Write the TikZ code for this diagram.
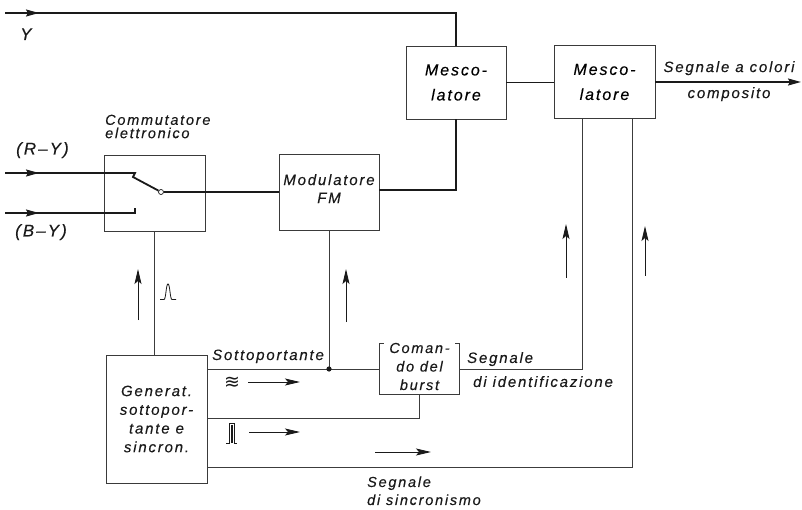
\documentclass[tikz,border=0pt]{standalone}
\usepackage{fontspec}
\setmainfont{Liberation Sans}[LetterSpace=12,ItalicFeatures={FakeBold=0.3}]
\newfontfamily\symf{DejaVu Sans}
\usetikzlibrary{arrows.meta,decorations.markings}
\newcommand{\mylbl}[2]{\fontsize{#1}{#2}\selectfont\itshape}
\definecolor{ink}{HTML}{1A1A1A}
\definecolor{boxc}{HTML}{3A3A3A}
\begin{document}
\begin{tikzpicture}[x=1pt,y=-1pt,
  blk/.style={draw=boxc,line width=0.8pt,inner sep=0pt,align=center},
  txt/.style={inner sep=0pt,text=ink},
  thickln/.style={draw=ink,line width=1.8pt},
  thinln/.style={draw=ink!85,line width=0.9pt},
  midarrow/.style={postaction={decorate},decoration={markings,
     mark=at position 34pt with {\arrow{Stealth[length=13pt,width=7pt,inset=2pt]}}}},
  sig/.style={draw=ink,line width=0.9pt,-{Stealth[length=15pt,width=7pt,inset=3pt]}},
  pulse/.style={draw=ink,line width=0.8pt}
]
\useasboundingbox (0,0) rectangle (802,510);

% ---------- boxes ----------
\node[blk,minimum width=100pt,minimum height=73pt,font=\mylbl{16}{25}] (mix1) at (456,82.5) {Mesco-\\latore};
\node[blk,minimum width=101pt,minimum height=73pt,font=\mylbl{16}{25}] (mix2) at (604.5,82) {Mesco-\\latore};
\node[blk,minimum width=101pt,minimum height=76pt] (com) at (154.5,193) {};
\node[blk,minimum width=100pt,minimum height=76pt] (mod) at (329,192) {};
\node[txt,align=center,font=\mylbl{15}{18}] (tmod) at (329,188.6) {Modulatore\\FM};
\node[blk,minimum width=101pt,minimum height=128pt,font=\mylbl{15}{18.7},text=ink] (gen) at (156.5,419) {Generat.\\sottopor-\\tante e\\sincron.};
\node[inner sep=0pt,minimum width=79pt,minimum height=50pt] (cmd) at (419.5,369) {};
\draw[boxc,line width=0.8pt] ([xshift=4pt]cmd.north west) -- (cmd.north west) -- (cmd.south west)
   -- (cmd.south east) -- (cmd.north east) -- ([xshift=-4pt]cmd.north east);
\node[txt,align=center,font=\mylbl{14.5}{18.5}] (tcmd) at (419.5,366.5) {Coman-\\do del\\burst};

% ---------- labels ----------
\node[txt,anchor=base west,font=\mylbl{17}{20}] (ly) at (20,40) {Y};
\node[txt,anchor=base west,font=\mylbl{17}{20}] (lry) at (16,154.5) {(R–Y)};
\node[txt,anchor=base west,font=\mylbl{17}{20}] (lby) at (15,236.5) {(B–Y)};
\node[txt,anchor=west,align=left,font=\mylbl{14.5}{13.3}] (lcom) at (105,126.5) {Commutatore\\elettronico};
\node[txt,align=center,font=\mylbl{15}{26}] (lout) at (729,81.2) {Segnale a colori\\composito};
\node[txt,anchor=base west,font=\mylbl{15}{18}] (lsub) at (212,360) {Sottoportante};
\node[txt,anchor=west,align=left,font=\mylbl{15}{24}] (lid) at (467,369.6) {Segnale\\\hspace*{6pt}di identificazione};
\node[txt,anchor=west,align=left,font=\mylbl{14.5}{18}] (lsync) at (367,490.8) {Segnale\\di sincronismo};

% ---------- coordinates ----------
\coordinate (yin) at (5,13);
\coordinate (rin) at (5,173);
\coordinate (rend) at (135,173);
\coordinate (bin) at (5,213);
\coordinate (bend) at (135,213);
\coordinate (out) at (801,82);
\coordinate (l2) at (0,418);
\coordinate (l3) at (0,467);
\node[circle,draw=ink,fill=white,line width=0.7pt,inner sep=0pt,minimum size=5pt] (sw) at (161,192) {};

% ---------- thick signal paths ----------
\draw[thickln,midarrow] (yin) -| (mix1.north);
\draw[thickln,midarrow] (rin) -- (rend) -- ++(-2,4) -- (sw);
\draw[thickln,midarrow] (bin) -- (bend) -- ++(0,-5);
\draw[thickln] (sw) -- (mod.west |- sw);
\draw[thickln] (mod.east |- 0,190) -| (mix1.south);
\draw[thickln] (mix1.east) -- (mix2.west |- mix1.east);
\draw[thickln,-{Stealth[length=13pt,width=7pt,inset=2pt]}] (mix2.east) -- (out);

% ---------- thin paths ----------
\draw[thinln] (com.south) -- (com.south |- gen.north);
\coordinate (junc) at (mod.south |- cmd.west);
\draw[thinln] (mod.south) -- (junc);
\draw[thinln] (gen.east |- cmd.west) -- (cmd.west);
\fill[ink] (junc) circle (2.6pt);
\draw[thinln] (gen.east |- l2) -| (cmd.south);
\draw[thinln] (gen.east |- l3) -| ([xshift=27.5pt]mix2.south);
\draw[thinln] (cmd.east) -| ([xshift=-22.5pt]mix2.south);

% ---------- direction arrows ----------
\draw[sig] (138,320) -- (138,269);
\draw[sig] (346,322) -- (346,269);
\draw[sig] (566,278) -- (566,224);
\draw[sig] (645,276) -- (645,226);
\draw[sig] (248,382) -- (300,382);
\draw[sig] (249,432) -- (300,432);
\draw[sig] (375,452) -- (431,452);

% ---------- waveform symbols ----------
\draw[pulse] (160,299.5) -- (164,299.5) .. controls (166,299.5) and (166,284) .. (168,284)
   .. controls (170,284) and (170,299.5) .. (172,299.5) -- (176,299.5);
\draw[pulse] (226,443) -- (229,443) -- (229,423) -- (234,423) -- (234,443) -- (237,443);
\draw[pulse,line width=0.6pt] (231,443) -- (231,425) -- (232,425) -- (232,443);
\node[txt,font=\symf\fontsize{19}{19}\selectfont] (wav) at (232,383) {≋};
\end{tikzpicture}
\end{document}
